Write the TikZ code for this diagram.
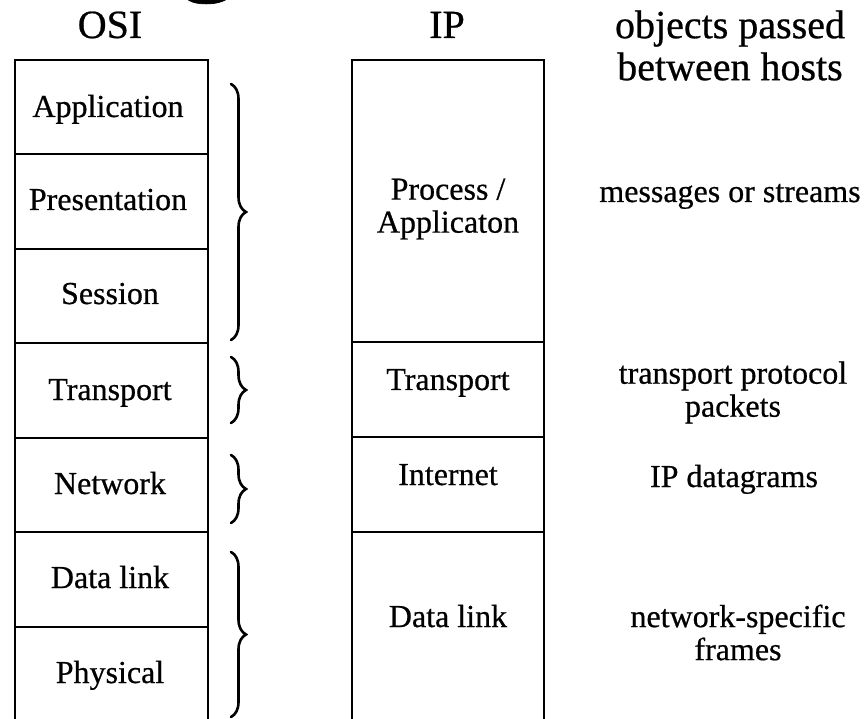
\documentclass[tikz,border=0pt]{standalone}
\usepackage{fontspec}
\setmainfont{Liberation Serif}[FakeBold=0.6]
\newfontfamily\headletter{Liberation Serif}[FakeBold=0.6]
\usetikzlibrary{decorations.pathreplacing}
\begin{document}
\begin{tikzpicture}[x=1pt,y=-1pt,
  osilayer/.style={draw=black, line width=2.2pt, minimum width=193pt,
    minimum height=94.4pt, inner sep=0pt, outer sep=0pt},
  iplayer/.style={draw=black, line width=2.2pt, minimum width=192pt,
    inner sep=0pt, outer sep=0pt},
  lbl/.style={font=\fontsize{32}{33}\selectfont, inner sep=0pt, anchor=base},
  lbltwo/.style={font=\fontsize{32}{33}\selectfont, inner sep=0pt, align=center},
  head/.style={font=\fontsize{40}{42}\selectfont, inner sep=0pt, anchor=base},
  grp/.style={decorate, decoration={brace, amplitude=15pt},
    line width=2.6pt, line cap=round}
]
\useasboundingbox (0,0) rectangle (868,719);
\clip (0,0) rectangle (868,719);

% tail of a large heading letter above the figure
\node[font=\headletter\fontsize{120}{120}\selectfont, inner sep=0pt, anchor=base] (bigg) at (208,-22) {g};

% column headings
\node[head] (hosi) at (110,38) {OSI};
\node[head] (hip) at (447,38) {IP};
\node[font=\fontsize{40}{42}\selectfont, inner sep=0pt, align=center] (hobj) at (730,45.5)
  {objects passed\\between hosts};

% OSI stack
\node[osilayer] (app)  at (111.5,107.2) {};
\node[osilayer] (pres) at (111.5,201.6) {};
\node[osilayer] (sess) at (111.5,296.1) {};
\node[osilayer] (otr)  at (111.5,390.5) {};
\node[osilayer] (onet) at (111.5,484.9) {};
\node[osilayer] (odl)  at (111.5,579.4) {};
\node[osilayer] (phy)  at (111.5,673.8) {};

\node[lbl] (tapp)  at (108,117) {Application};
\node[lbl] (tpres) at (108,210) {Presentation};
\node[lbl] (tsess) at (110,304) {Session};
\node[lbl] (totr)  at (110,400) {Transport};
\node[lbl] (tonet) at (110,494) {Network};
\node[lbl] (todl)  at (110,588) {Data link};
\node[lbl] (tphy)  at (110,683) {Physical};

% IP stack
\node[iplayer, minimum height=282pt] (proc) at (448,201) {};
\node[iplayer, minimum height=95pt]  (itr)  at (448,389.5) {};
\node[iplayer, minimum height=95pt]  (inet) at (448,484.5) {};
\node[iplayer, minimum height=189pt] (idl)  at (448,626.5) {};

\node[lbltwo] (tproc) at (448,209) {Process /\\Applicaton};
\node[lbl] (titr)  at (448,390) {Transport};
\node[lbl] (tinet) at (448,485) {Internet};
\node[lbl] (tidl)  at (448,627) {Data link};

% objects passed between hosts
\node[lbl] (omsg) at (730,202) {messages or streams};
\node[lbltwo] (opkt) at (733,392.5) {transport protocol\\packets};
\node[lbl] (odg)  at (734,487) {IP datagrams};
\node[lbltwo] (ofr)  at (738,632.5) {network-specific\\frames};

% braces grouping OSI layers onto IP layers
\coordinate (b1t) at (231,84);  \coordinate (b1b) at (231,340);
\coordinate (b2t) at (231,357); \coordinate (b2b) at (231,423);
\coordinate (b3t) at (231,455); \coordinate (b3b) at (231,523);
\coordinate (b4t) at (231,552); \coordinate (b4b) at (231,717);
\draw[grp] (b1t) -- (b1b);
\draw[grp] (b2t) -- (b2b);
\draw[grp] (b3t) -- (b3b);
\draw[grp] (b4t) -- (b4b);
\end{tikzpicture}
\end{document}
